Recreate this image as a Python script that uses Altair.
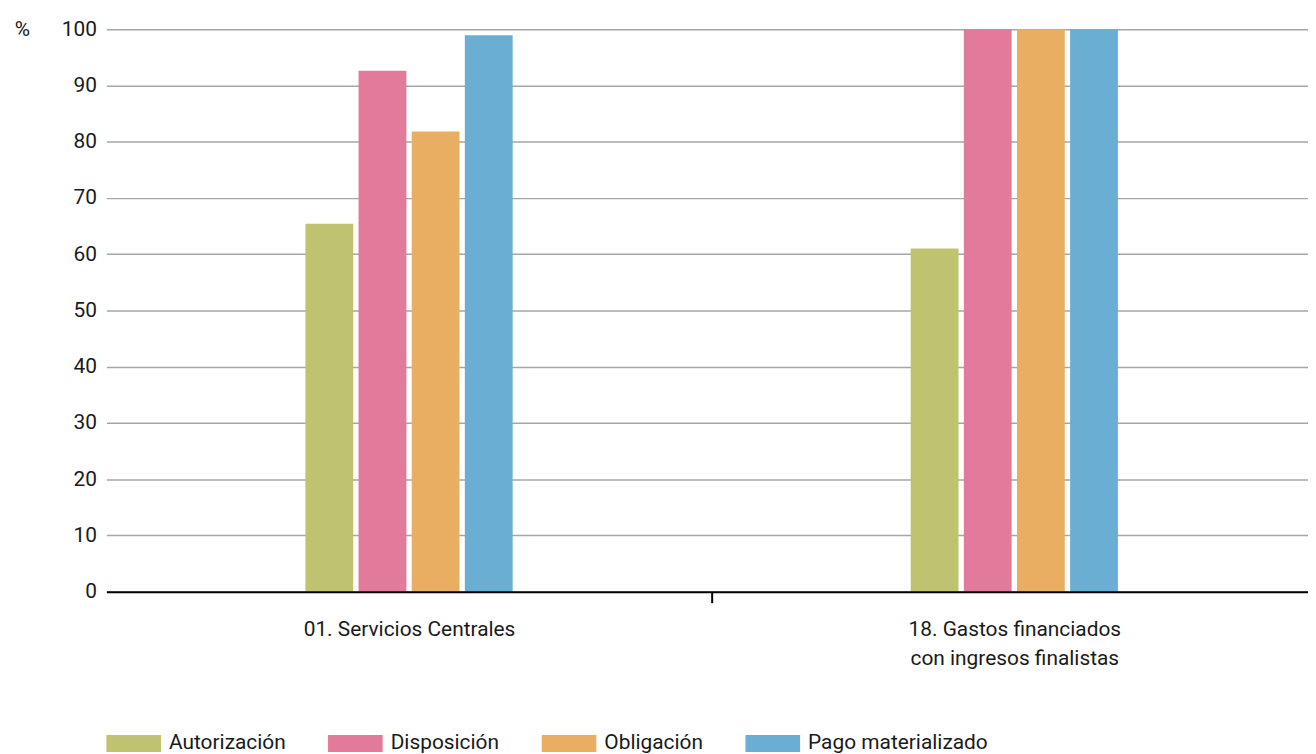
import altair as alt
import pandas as pd

categories = ["01. Servicios Centrales", "18. Gastos financiados|con ingresos finalistas"]
series = ["Autorización", "Disposición", "Obligación", "Pago materializado"]
colors = ["#bfc36f", "#e27b9b", "#e9ae62", "#6aafd3"]
autorizacion = [65.4, 61.0]
disposicion = [92.6, 100.0]
obligacion = [81.8, 100.0]
pago = [98.9, 100.0]

rows = []
for s, vals in zip(series, [autorizacion, disposicion, obligacion, pago]):
    for c, v in zip(categories, vals):
        rows.append({"categoria": c, "serie": s, "valor": v})
df = pd.DataFrame(rows)

FONT = "Roboto"
TXT = "#1a1a1a"
GROUP_SHARE = 0.3424  # share of each category band covered by its group of bars

chart = alt.Chart(df).mark_bar().encode(
    x=alt.X(
        "categoria:N",
        sort=categories,
        scale=alt.Scale(paddingInner=0, paddingOuter=0,
                        range=[0, alt.ExprRef("width + 9")]),
        axis=alt.Axis(
            title=None,
            labelAngle=0,
            labelExpr="split(datum.label, '|')",
            labelLineHeight=29,
            labelFontSize=21,
            labelFont=FONT,
            labelColor=TXT,
            labelPadding=16,
            labelLimit=0,
            tickBand="extent",
            tickSize=11,
            tickWidth=2,
            tickColor={"condition": {"test": "datum.value == '" + categories[0] + "'", "value": "#000000"}, "value": "transparent"},
            domainColor="#000000",
            domainWidth=2,
            grid=False,
            zindex=1,
        ),
    ),
    xOffset=alt.XOffset(
        "serie:N", sort=series,
        scale=alt.Scale(
            paddingInner=0.1, paddingOuter=0,
            range=[alt.ExprRef(f"bandwidth('x')*{(1 - GROUP_SHARE) / 2}"),
                   alt.ExprRef(f"bandwidth('x')*{(1 + GROUP_SHARE) / 2}")],
        ),
    ),
    y=alt.Y(
        "valor:Q",
        scale=alt.Scale(domain=[0, 100], nice=False),
        axis=alt.Axis(
            title="%",
            titleAngle=0,
            titleX=-85,
            titleY=0,
            titleAlign="center",
            titleBaseline="middle",
            titleFont=FONT,
            titleFontSize=21,
            titleFontWeight="normal",
            titleColor=TXT,
            values=list(range(0, 101, 10)),
            labelFont=FONT,
            labelFontSize=21,
            labelColor=TXT,
            labelPadding=10,
            ticks=False,
            domain=False,
            grid=True,
            gridColor="#a6a6a6",
            gridWidth=1.5,
        ),
    ),
    color=alt.Color(
        "serie:N",
        sort=series,
        scale=alt.Scale(domain=series, range=colors),
        legend=alt.Legend(
            title=None,
            orient="none",
            legendX=0,
            legendY=691,
            direction="horizontal",
            columns=4,
            symbolType="M-1,-0.31H1V0.31H-1Z",
            symbolSize=3025,
            symbolStrokeWidth=0,
            symbolOpacity=1,
            labelFont=FONT,
            labelFontSize=21,
            labelColor=TXT,
            labelOffset=8,
            labelLimit=0,
            columnPadding=42,
            padding=0,
        ),
    ),
).properties(
    width=1209,
    height=566,
    padding={"left": 99, "top": 19, "right": 0, "bottom": 161},
    autosize=alt.AutoSizeParams(type="none"),
).configure_view(stroke=None)

chart.save("out.html", embed_options={"renderer": "svg", "actions": False})
